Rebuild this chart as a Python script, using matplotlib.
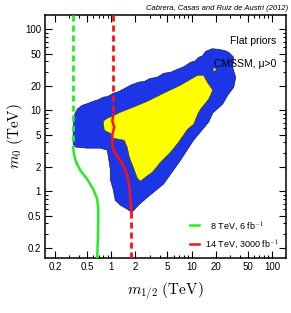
import numpy as np
import matplotlib
matplotlib.use("Agg")
import matplotlib.pyplot as plt
from matplotlib.ticker import FixedLocator, NullFormatter

plt.rcParams['font.family'] = ['Liberation Sans', 'DejaVu Sans']
plt.rcParams['mathtext.fontset'] = 'cm'

# 95% region (blue), m_1/2 and m_0 in TeV, traced clockwise
blue_m12 = [1.78, 1.58, 1.30, 1.12, 1.06, 0.97, 0.97, 0.92, 0.89, 0.73, 0.50, 0.365,
            0.335, 0.335, 0.345, 0.376, 0.434, 0.516, 0.596, 0.70, 0.794, 0.90, 1.06,
            1.20, 1.41, 1.75, 2.18, 2.60, 3.07, 3.70, 4.47, 5.50, 6.68, 8.00, 9.72,
            11.0, 12.2, 13.5, 15.0, 18.0, 21.8, 26.0, 29.0, 33.5, 32.5, 35.5, 33.5,
            28.2, 24.4, 18.3, 16.3, 14.1, 10.6, 7.29, 4.47, 2.82, 2.18, 1.88]
blue_m0 = [0.55, 0.60, 0.67, 0.77, 1.03, 1.41, 1.87, 2.63, 3.21, 3.40, 3.40, 3.49,
           3.80, 6.17, 8.67, 10.3, 11.5, 12.2, 12.9, 13.6, 14.5, 14.8, 16.2,
           16.8, 18.2, 20.5, 22.2, 22.8, 24.8, 25.5, 28.6, 29.5, 32.1, 34.5, 39.2,
           40.5, 45.1, 46.5, 53.5, 57.5, 56.6, 54.5, 52.0, 45.1, 34.0, 25.5, 19.2,
           15.3, 11.9, 9.18, 7.11, 5.99, 4.26, 2.41, 1.22, 0.84, 0.67, 0.57]

# 68% region (yellow)
yellow_m12 = [14.1, 15.4, 18.3, 16.3, 12.9, 11.9, 10.6, 8.91, 6.88, 5.46, 4.10, 3.25,
              2.66, 2.30, 2.11, 1.88, 1.68, 1.58, 1.45, 1.06, 0.97, 0.818, 0.794,
              0.89, 1.03, 1.30, 1.88, 2.82, 4.47, 7.29, 9.72, 11.9]
yellow_m0 = [27.0, 22.8, 17.7, 13.7, 10.3, 8.93, 6.72, 5.83, 4.03, 3.03, 2.28, 1.72,
             1.49, 1.33, 1.45, 1.98, 2.63, 3.49, 4.26, 4.51, 5.20, 5.66, 7.31,
             7.96, 8.43, 9.45, 10.9, 12.9, 16.2, 20.4, 24.1, 27.0]
yellow_island_m12 = [18.8]
yellow_island_m0 = [32.0]

# LHC reach curves
green_dash_m12 = [0.335, 0.335]
green_dash_m0 = [150, 3.49]
green_m12 = [0.335, 0.345, 0.365, 0.41, 0.50, 0.596, 0.668, 0.688, 0.688, 0.668]
green_m0 = [3.49, 2.78, 2.28, 1.82, 1.41, 1.06, 0.80, 0.60, 0.36, 0.15]

red_dash_top_m12 = [1.06, 1.06]
red_dash_top_m0 = [150, 8.93]
red_m12 = [1.06, 1.03, 1.09, 1.03, 1.03, 1.06, 1.22, 1.41, 1.58, 1.68, 1.73, 1.78]
red_m0 = [8.93, 7.31, 6.17, 5.05, 4.03, 3.21, 2.63, 2.09, 1.58, 1.12, 0.77, 0.55]
red_dash_bot_m12 = [1.78, 1.78]
red_dash_bot_m0 = [0.55, 0.15]

labels = ["  8 TeV, 6 fb$^{-1}$", "14 TeV, 3000 fb$^{-1}$"]
major_ticks = [0.2, 0.5, 1, 2, 5, 10, 20, 50, 100]
tick_labels = ["0.2", "0.5", "1", "2", "5", "10", "20", "50", "100"]

fig = plt.figure(figsize=(2.91, 3.13), dpi=100)
ax = fig.add_axes([0.155, 0.176, 0.828, 0.776])

ax.fill(blue_m12, blue_m0, color='#1c35e6', ec='#101040', lw=0.4, zorder=1)
ax.fill(yellow_m12, yellow_m0, color='#ffff00', ec='#404000', lw=0.4, zorder=2)
ax.plot(yellow_island_m12, yellow_island_m0, 'o', color='#ffff00', mec='#404000',
        mew=0.3, ms=2.2, zorder=2)

dash = (0, (2.2, 1.4))
ax.plot(green_dash_m12, green_dash_m0, color='#22ee22', lw=2, ls=dash, zorder=3)
g, = ax.plot(green_m12, green_m0, color='#22ee22', lw=1.8, zorder=3)
ax.plot(red_dash_top_m12, red_dash_top_m0, color='#ff1010', lw=2, ls=dash, zorder=3)
r, = ax.plot(red_m12, red_m0, color='#ff1010', lw=1.8, zorder=3)
ax.plot(red_dash_bot_m12, red_dash_bot_m0, color='#ff1010', lw=2, ls=dash, zorder=3)

ax.set_xscale('log')
ax.set_yscale('log')
ax.set_xlim(0.15, 150)
ax.set_ylim(0.15, 150)

minor = [v * 10.0 ** e for e in range(-1, 3) for v in range(1, 10)]
minor = [m for m in minor if not any(np.isclose(m, t) for t in major_ticks)]
for axis in (ax.xaxis, ax.yaxis):
    axis.set_major_locator(FixedLocator(major_ticks))
    axis.set_minor_locator(FixedLocator(minor))
    axis.set_minor_formatter(NullFormatter())
ax.set_xticklabels(tick_labels)
ax.set_yticklabels(tick_labels)
ax.tick_params(which='both', direction='in', top=True, right=True, labelsize=7, pad=3)
ax.tick_params(which='major', length=5, width=0.8)
ax.tick_params(which='minor', length=2.5, width=0.8)
for s in ax.spines.values():
    s.set_linewidth(1.1)

ax.set_xlabel(r"$m_{1/2}\ (\mathrm{TeV})$", fontsize=11, labelpad=6)
ax.set_ylabel(r"$m_0\ (\mathrm{TeV})$", fontsize=11, labelpad=0)

ax.text(0.96, 0.895, "Flat priors", transform=ax.transAxes, ha='right', va='center', fontsize=7.5)
ax.text(0.96, 0.80, "CMSSM, μ>0", transform=ax.transAxes, ha='right', va='center', fontsize=7.5)
fig.text(0.99, 0.985, "Cabrera, Casas and Ruiz de Austri (2012)", ha='right', va='top',
         fontsize=5.5, style='italic')

ax.legend([g, r], labels, loc='lower right', frameon=False, fontsize=6.5,
          handlelength=1.0, handletextpad=0.6, borderaxespad=0.4, labelspacing=0.5)

fig.savefig("out.png", dpi=100)
